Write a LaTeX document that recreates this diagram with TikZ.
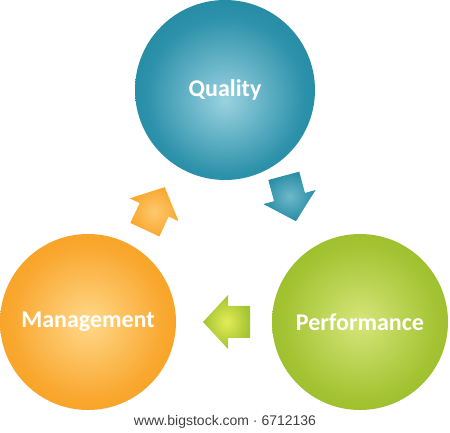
\documentclass[tikz,border=0pt]{standalone}
\usepackage{fontspec}
\setmainfont{Carlito}
\newfontfamily\footfont{Liberation Sans}
\definecolor{qualin}{HTML}{9AD2E0}
\definecolor{qualmid}{HTML}{2C91AA}
\definecolor{qualout}{HTML}{167790}
\definecolor{mgmtin}{HTML}{FFD88A}
\definecolor{mgmtmid}{HTML}{F9A72E}
\definecolor{mgmtout}{HTML}{F39418}
\definecolor{perfin}{HTML}{D6E57A}
\definecolor{perfmid}{HTML}{A3C332}
\definecolor{perfout}{HTML}{86AC1C}
\pgfdeclareradialshading{qualshade}{\pgfpoint{0bp}{-3bp}}{color(0bp)=(qualin); color(22bp)=(qualmid); color(44bp)=(qualout); color(50bp)=(qualout)}
\pgfdeclareradialshading{mgmtshade}{\pgfpoint{0bp}{0bp}}{color(0bp)=(mgmtin); color(22bp)=(mgmtmid); color(44bp)=(mgmtout); color(50bp)=(mgmtout)}
\pgfdeclareradialshading{perfshade}{\pgfpoint{0bp}{0bp}}{color(0bp)=(perfin); color(22bp)=(perfmid); color(44bp)=(perfout); color(50bp)=(perfout)}
\tikzset{
  topic/.style={circle, minimum size=#1, inner sep=0pt, text=white, font=\bfseries\fontsize{24}{28}\selectfont},
  flow/.pic={
    \path[pic actions] (-24,-16) -- (-2,-16) -- (-2,-27) -- (23,0) -- (-2,27) -- (-2,16) -- (-24,16) -- cycle;
  }
}
\begin{document}
\begin{tikzpicture}[x=1pt,y=1pt]
\useasboundingbox (0,0) rectangle (450,433);
\node[topic=180pt, shading=qualshade] (quality) at (225,343) {Quality};
\node[topic=176pt, shading=mgmtshade] (mgmt) at (88,111) {Management};
\node[topic=176pt, shading=perfshade] (perf) at (360,111) {Performance};
\pic[rotate=65, shade, inner color=mgmtin!70!mgmtmid, outer color=mgmtmid] (up) at (155,225) {flow};
\pic[rotate=-75, shade, inner color=qualin!60!qualmid, outer color=qualmid!80!qualout] (down) at (290,234) {flow};
\pic[rotate=180, shade, inner color=perfin!70!yellow, outer color=perfmid] (back) at (226,111) {flow};
\node[text=black!75, font=\footfont\fontsize{14}{16}\selectfont] (credit) at (225,11) {www.bigstock.com \textperiodcentered{} 6712136};
\end{tikzpicture}
\end{document}
